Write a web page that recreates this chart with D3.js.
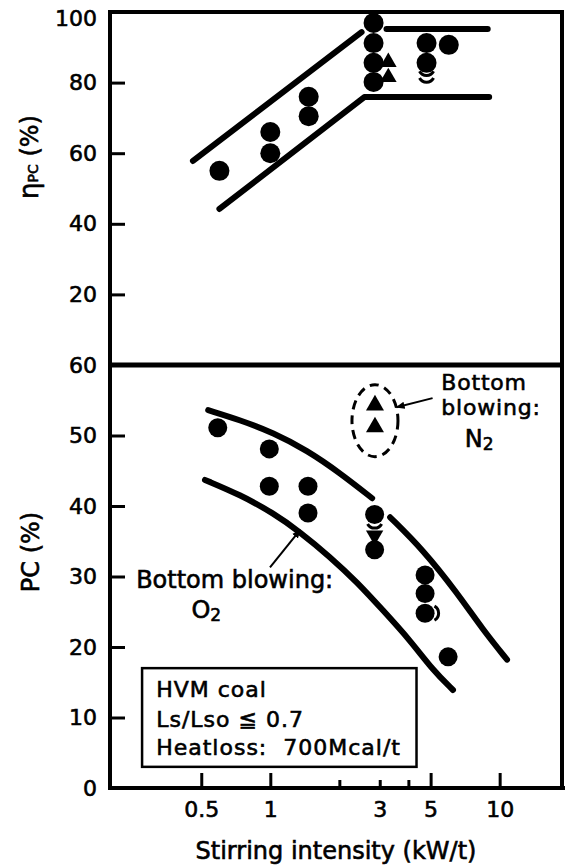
<!DOCTYPE html>
<html>
<head>
<meta charset="utf-8">
<script src="https://cdn.jsdelivr.net/npm/d3@7"></script>
<style>
  body { margin: 0; background: #fff; }
  svg { display: block; }
  text { font-family: "DejaVu Sans", sans-serif; fill: #000; stroke: #000; stroke-width: 0.6px; }
</style>
</head>
<body>
<script>

// x axis: stirring intensity (kW/t), log scale
const xMajorTicks = [0.5, 1, 5, 10];
const xMinorTicks = [2, 3, 4];
const xTickLabels = [0.5, 1, 3, 5, 10];
const topYTicks = [20, 40, 60, 80, 100];
const bottomYTicks = [0, 10, 20, 30, 40, 50, 60];

// top panel: eta_PC (%)
const etaCircles = [
    [0.6, 55], [1.0, 66], [1.0, 60], [1.47, 76], [1.47, 70.5],
    [2.82, 96.9], [2.82, 91.2], [2.82, 85.6], [2.82, 80.2],
    [4.8, 91.2], [4.8, 85.6], [6.0, 90.7]
];
const etaTriangles = [[3.27, 85.8], [3.27, 81.5]];
const etaArcs = [[4.8, 84.3, "down"], [4.8, 82.4, "down"]];
const etaUpperBand = [[0.46, 57.8], [2.5, 94.3]];
const etaUpperFlat = [[3.21, 95.2], [8.87, 95.2]];
const etaLowerBand = [[0.6, 44.2], [2.57, 75.9], [9.0, 75.9]];

// bottom panel: PC (%)
const pcCircles = [
    [0.59, 51.1], [0.99, 48.1], [0.99, 42.8], [1.46, 42.8], [1.46, 39.0],
    [2.85, 38.8], [2.85, 33.8],
    [4.73, 30.2], [4.73, 27.6], [4.73, 24.8], [5.96, 18.6]
];
const pcN2Triangles = [[2.86, 54.3], [2.86, 51.2]];
const pcDownTriangles = [[2.85, 35.8]];
const pcArcs = [[2.85, 38.0, "down"], [5.0, 24.8, "right"]];
const pcUpperCurveA = [[0.536, 53.6], [0.738, 52.2], [1.03, 50.4], [1.445, 47.9], [2.01, 44.7], [2.78, 41.1]];
const pcUpperCurveB = [[3.33, 38.4], [4.63, 33.8], [6.52, 27.7], [8.47, 22.4], [10.77, 18.2]];
const pcLowerCurve = [
    [0.519, 43.7], [0.738, 41.6], [1.03, 39.0], [1.35, 36.3], [1.82, 32.8],
    [2.39, 29.2], [3.10, 25.2], [4.06, 21.0], [5.12, 16.7], [6.26, 13.9]
];

// annotations (data coordinates of the bottom panel)
const n2Ellipse = [2.86, 52.1];
const n2Arrow = [[5.1, 55.3], [3.55, 54.0]];
const n2Label = [["Bottom", 5.57, 56.4], ["blowing:", 5.57, 52.9]];
const n2Sub = [7.04, 48.4];
const o2Arrow = [[0.997, 31.3], [1.35, 36.6]];
const o2Label = ["Bottom blowing:", 0.26, 28.4];
const o2Sub = [0.526, 24.1];
const boxCorners = [[0.276, 17.0], [4.34, 3.0]];
const boxLines = ["HVM coal", "Ls/Lso ≦ 0.7", "Heatloss:  700Mcal/t"];
const boxBaselines = [12.9, 8.65, 4.7];
const boxTextX = 0.318;

const width = 565, height = 866;
const padL = 110, padR = 562, padT = 12, padMid = 365, padB = 788;

const svg = d3.select("body").append("svg")
    .attr("width", width).attr("height", height);

const x = d3.scaleLog().domain([0.2, 18.7]).range([padL, padR]);
const yTop = d3.scaleLinear().domain([0, 100]).range([padMid, padT]);
const yBot = d3.scaleLinear().domain([0, 60]).range([padB, padMid]);

svg.append("defs").append("marker")
    .attr("id", "arrow")
    .attr("viewBox", "0 0 10 10")
    .attr("refX", 9).attr("refY", 5)
    .attr("markerWidth", 9).attr("markerHeight", 9)
    .attr("markerUnits", "userSpaceOnUse")
    .attr("orient", "auto")
    .append("path").attr("d", "M0,1L10,5L0,9Z").attr("fill", "#000");

// frame
const frame = svg.append("g").attr("fill", "none").attr("stroke", "#000").attr("stroke-width", 4);
frame.append("rect").attr("x", padL).attr("y", padT).attr("width", padR - padL).attr("height", padB - padT);
frame.append("line").attr("x1", padL).attr("x2", padR).attr("y1", padMid).attr("y2", padMid).attr("stroke-width", 5);
frame.append("line").attr("x1", padL).attr("x2", width).attr("y1", padB).attr("y2", padB);

// axes
function styleAxis(g) {
    g.select(".domain").remove();
    g.selectAll(".tick line").attr("stroke", "#000").attr("stroke-width", 3);
    g.selectAll(".tick text").attr("font-size", 22).attr("font-family", "DejaVu Sans");
}

svg.append("g").attr("transform", `translate(${padL},0)`)
    .call(d3.axisLeft(yTop).tickValues(topYTicks).tickSize(-15).tickSizeOuter(0).tickPadding(13))
    .call(styleAxis)
    .call(g => g.selectAll(".tick").filter(d => d === 100).select("line").remove())
    .call(g => g.selectAll(".tick").filter(d => d === 100).select("text").attr("dy", "0.62em"));

svg.append("g").attr("transform", `translate(${padL},0)`)
    .call(d3.axisLeft(yBot).tickValues(bottomYTicks).tickSize(-15).tickSizeOuter(0).tickPadding(13))
    .call(styleAxis)
    .call(g => g.selectAll(".tick").filter(d => d === 0 || d === 60).select("line").remove());

svg.append("g").attr("transform", `translate(0,${padB})`)
    .call(d3.axisBottom(x).tickValues(xMajorTicks).tickSize(-15).tickFormat(""))
    .call(styleAxis);
svg.append("g").attr("transform", `translate(0,${padB})`)
    .call(d3.axisBottom(x).tickValues(xMinorTicks).tickSize(-8).tickFormat(""))
    .call(styleAxis);
svg.append("g").attr("transform", `translate(0,${padB})`)
    .call(d3.axisBottom(x).tickValues(xTickLabels).tickSize(0).tickPadding(13).tickFormat(d3.format("~g")))
    .call(styleAxis);

// axis titles
svg.append("text")
    .attr("x", (padL + padR) / 2).attr("y", 859)
    .attr("text-anchor", "middle").attr("font-size", 24)
    .text("Stirring intensity (kW/t)");

const etaTitle = svg.append("text")
    .attr("transform", "translate(38,157) rotate(-90)")
    .attr("text-anchor", "middle").attr("font-size", 24);
etaTitle.append("tspan").attr("font-size", 26).text("η");
etaTitle.append("tspan").attr("font-size", 14).text("PC");
etaTitle.append("tspan").text(" (%)");

svg.append("text")
    .attr("transform", "translate(39,552) rotate(-90)")
    .attr("text-anchor", "middle").attr("font-size", 24)
    .text("PC (%)");

// band lines
const lineTop = d3.line().x(d => x(d[0])).y(d => yTop(d[1]));
const lineBot = d3.line().x(d => x(d[0])).y(d => yBot(d[1])).curve(d3.curveBasis);

svg.append("g").attr("fill", "none").attr("stroke", "#000").attr("stroke-width", 6)
    .attr("stroke-linecap", "round").attr("stroke-linejoin", "round")
    .selectAll("path")
    .data([etaUpperBand, etaUpperFlat, etaLowerBand])
    .join("path").attr("d", lineTop);

svg.append("g").attr("fill", "none").attr("stroke", "#000").attr("stroke-width", 6)
    .attr("stroke-linecap", "round")
    .selectAll("path")
    .data([pcUpperCurveA, pcUpperCurveB, pcLowerCurve])
    .join("path").attr("d", lineBot);

// markers
const triangle = d3.symbol().type(d3.symbolTriangle);

svg.append("g").selectAll("path")
    .data(etaTriangles).join("path")
    .attr("d", triangle.size(120)())
    .attr("transform", d => `translate(${x(d[0])},${yTop(d[1])})`);

svg.append("g").selectAll("circle")
    .data(etaCircles).join("circle")
    .attr("cx", d => x(d[0])).attr("cy", d => yTop(d[1])).attr("r", 10);

svg.append("g").selectAll("path")
    .data(pcN2Triangles).join("path")
    .attr("d", triangle.size(140)())
    .attr("transform", d => `translate(${x(d[0])},${yBot(d[1])})`);

svg.append("g").selectAll("path")
    .data(pcDownTriangles).join("path")
    .attr("d", triangle.size(130)())
    .attr("transform", d => `translate(${x(d[0])},${yBot(d[1])}) rotate(180)`);

svg.append("g").selectAll("circle")
    .data(pcCircles).join("circle")
    .attr("cx", d => x(d[0])).attr("cy", d => yBot(d[1])).attr("r", 9.5);

// partly hidden points drawn as arcs
const arcPath = d3.arc().innerRadius(8).outerRadius(8);
const arcAngles = {
    down: [Math.PI / 2 + 0.5, 3 * Math.PI / 2 - 0.5],
    right: [0.5, Math.PI - 0.5]
};
function drawArcs(data, yScale) {
    svg.append("g").attr("fill", "none").attr("stroke", "#000").attr("stroke-width", 3)
        .selectAll("path").data(data).join("path")
        .attr("d", d => arcPath({ startAngle: arcAngles[d[2]][0], endAngle: arcAngles[d[2]][1] }))
        .attr("transform", d => `translate(${x(d[0])},${yScale(d[1])})`);
}
drawArcs(etaArcs, yTop);
drawArcs(pcArcs, yBot);

// N2 annotation
svg.append("ellipse")
    .attr("cx", x(n2Ellipse[0])).attr("cy", yBot(n2Ellipse[1]))
    .attr("rx", 23).attr("ry", 36)
    .attr("fill", "none").attr("stroke", "#000").attr("stroke-width", 3)
    .attr("stroke-dasharray", "9,6");

const arrowLine = d3.line().x(d => x(d[0])).y(d => yBot(d[1]));
svg.append("g").attr("fill", "none").attr("stroke", "#000").attr("stroke-width", 2)
    .selectAll("path").data([n2Arrow, o2Arrow]).join("path")
    .attr("d", arrowLine).attr("marker-end", "url(#arrow)");

svg.append("g").selectAll("text").data(n2Label).join("text")
    .attr("x", d => x(d[1])).attr("y", d => yBot(d[2]))
    .attr("font-size", 22).attr("letter-spacing", 0.8).text(d => d[0]);

const n2 = svg.append("text").attr("x", x(n2Sub[0])).attr("y", yBot(n2Sub[1])).attr("font-size", 24);
n2.append("tspan").text("N");
n2.append("tspan").attr("font-size", 17).attr("dy", 3).text("2");

svg.append("text")
    .attr("x", x(o2Label[1])).attr("y", yBot(o2Label[2]))
    .attr("font-size", 24).text(o2Label[0]);

const o2 = svg.append("text").attr("x", x(o2Sub[0])).attr("y", yBot(o2Sub[1]))
    .attr("text-anchor", "middle").attr("font-size", 24);
o2.append("tspan").text("O");
o2.append("tspan").attr("font-size", 17).attr("dy", 3).text("2");

// condition box
svg.append("rect")
    .attr("x", x(boxCorners[0][0])).attr("y", yBot(boxCorners[0][1]))
    .attr("width", x(boxCorners[1][0]) - x(boxCorners[0][0]))
    .attr("height", yBot(boxCorners[1][1]) - yBot(boxCorners[0][1]))
    .attr("fill", "#fff").attr("stroke", "#000").attr("stroke-width", 2.5);

svg.append("g").selectAll("text").data(boxLines).join("text")
    .attr("x", x(boxTextX)).attr("y", (d, i) => yBot(boxBaselines[i]))
    .attr("font-size", 22).attr("letter-spacing", 1)
    .style("white-space", "pre")
    .text(d => d);

</script>
</body>
</html>
